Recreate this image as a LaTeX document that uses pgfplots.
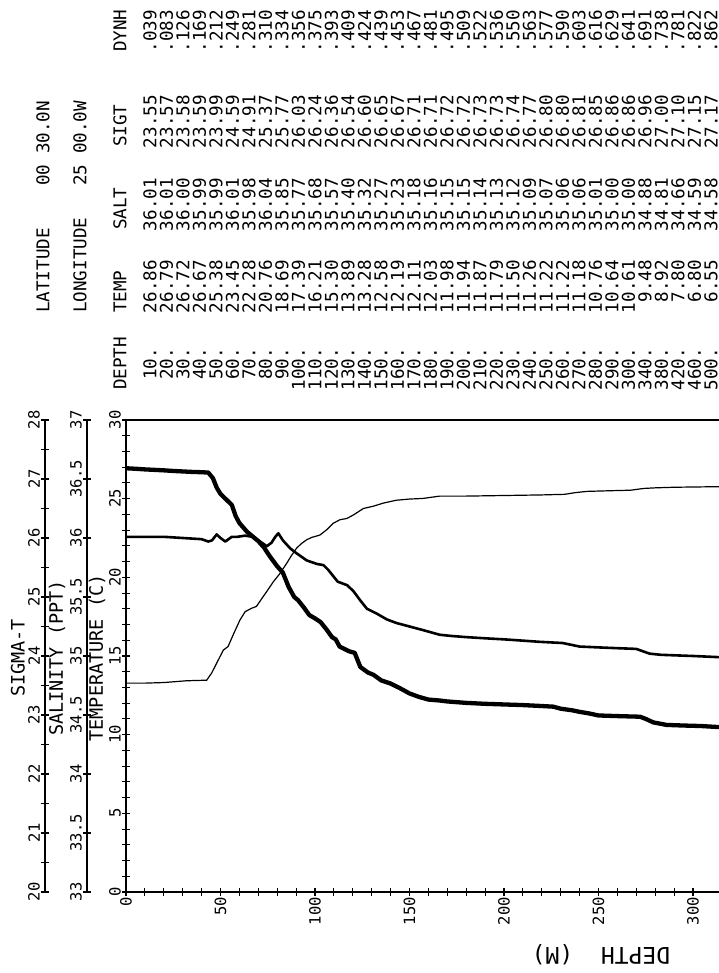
\documentclass[border=0pt]{standalone}
\usepackage{fontspec}
\setmainfont{DejaVu Sans Mono}
\usepackage{pgfplots}
\usepackage{pgfplotstable}
\pgfplotsset{compat=1.18}

\newcommand\tickfont{\fontsize{15.5bp}{16bp}\selectfont}
\newcommand\tabfont{\fontsize{17.6bp}{18bp}\selectfont}
\newcommand\ttlfont{\fontsize{18.5bp}{19bp}\selectfont}

% CTD station 00 30.0N 25 00.0W, traces (depth in m)
\pgfplotstableread{
depth temp
0.5 26.93
5 26.90
10 26.86
15 26.83
20 26.80
25 26.76
30 26.73
35 26.70
40 26.68
43.5 26.66
46 26.30
48 25.70
50 25.30
53 24.95
56 24.60
58 23.90
60 23.45
64 22.90
67 22.60
70 22.30
73 21.90
76 21.35
80 20.70
83 20.30
86 19.40
89 18.75
91 18.55
94 18.10
97 17.60
100 17.39
103 17.15
106 16.70
109 16.20
111 16.05
113 15.60
118 15.30
121 15.20
124 14.30
128 13.95
131 13.80
135 13.45
140 13.25
145 12.95
150 12.62
155 12.40
160 12.23
166 12.17
170 12.11
180 12.02
190 11.96
200 11.92
210 11.88
220 11.82
226 11.78
230 11.65
236 11.55
240 11.45
245 11.35
250 11.22
260 11.18
272 11.14
275 11.00
279 10.78
286 10.62
295 10.58
304 10.55
314 10.48
}\temptab

\pgfplotstableread{
depth salt
0.5 36.01
10 36.01
20 36.01
30 36.00
40 35.99
43.5 35.97
45.5 35.98
48 36.03
50 36.00
52.5 35.97
56 36.01
59 36.01
63 36.02
67 36.01
71 35.97
74.5 35.93
77 35.96
79 36.01
80.6 36.04
83 35.98
87 35.91
90.3 35.87
95.6 35.81
101 35.78
104.5 35.77
107 35.73
112 35.63
117 35.60
120.3 35.55
124 35.47
127.5 35.40
132.6 35.36
138 35.31
143 35.28
150 35.25
157 35.22
166 35.18
172 35.17
180 35.16
190 35.15
201 35.14
219 35.12
231 35.11
240 35.08
254 35.07
270 35.06
277 35.02
283 35.01
300 35.00
314 34.99
}\salttab

\pgfplotstableread{
depth sigt
0.5 23.54
10 23.54
20 23.55
32 23.58
42.7 23.59
45.3 23.71
48 23.88
51.5 24.10
54 24.16
57 24.38
60.3 24.61
63 24.75
66.5 24.81
69 24.84
72 24.98
74.4 25.09
78 25.26
81.5 25.40
85 25.57
87.7 25.71
90.3 25.83
93 25.91
95.6 25.97
98.3 26.01
102.6 26.05
106.2 26.14
109.7 26.25
113.2 26.31
116.8 26.33
120.3 26.39
125.6 26.50
131 26.54
136 26.59
143 26.64
150 26.66
157 26.67
166 26.71
180 26.71
200 26.72
220 26.73
232 26.74
238 26.77
244 26.79
255 26.80
267 26.81
274 26.84
280 26.85
290 26.86
314 26.87
}\sigtab

\pgfplotsset{
  prof/.style={
    scale only axis, height=472bp, anchor=south west,
    enlargelimits=false,
    tick align=center, major tick length=8bp, minor tick length=8bp,
    tick style={black, line width=1.1bp},
    axis line style={line width=1.6bp},
    /pgf/number format/assume math mode=true,
    tick label style={font=\tickfont},
    yticklabel style={rotate=90, anchor=south, inner sep=1bp},
  },
}

\begin{document}
\begin{tikzpicture}[x=1bp, y=1bp]
\useasboundingbox (0,0) rectangle (719,973);

% sigma-t scale, outermost
\begin{axis}[prof, at={(45bp,81bp)}, width=674bp,
    xmin=-42.857, xmax=313.76, ymin=20, ymax=28,
    hide x axis, axis y line*=left,
    ytick={20,...,28}, minor y tick num=1]
\addplot[line width=1.2bp] table[x=depth, y=sigt] \sigtab;
\end{axis}

% salinity scale
\begin{axis}[prof, at={(87bp,81bp)}, width=632bp,
    xmin=-20.635, xmax=313.76, ymin=33, ymax=37,
    hide x axis, axis y line*=left,
    ytick={33,33.5,...,37}]
\addplot[line width=2.6bp, line join=round] table[x=depth, y=salt] \salttab;
\end{axis}

% temperature vs depth
\begin{axis}[prof, at={(126bp,81bp)}, width=593bp,
    xmin=0, xmax=313.76, ymin=0, ymax=30,
    axis lines*=left,
    xtick={0,50,...,300}, minor x tick num=4,
    ytick={0,5,...,30}, minor y tick num=4,
    xticklabel style={rotate=90, anchor=east, inner sep=1bp}]
\addplot[line width=4.3bp, line join=round] table[x=depth, y=temp] \temptab;
\end{axis}
\draw[line width=1.6bp] (126,553) -- (719,553);

% scale titles
\node[rotate=90, font=\ttlfont] at (18,315) {SIGMA-T};
\node[rotate=90, font=\ttlfont] at (57,315) {SALINITY~(PPT)};
\node[rotate=90, font=\ttlfont] at (97,315) {TEMPERATURE~(C)};
\node[rotate=180, font=\fontsize{23bp}{24bp}\selectfont] at (601,18) {DEPTH~~(M)};

% station listing
\begin{scope}[every node/.style={rotate=90, inner sep=0, font=\tabfont}]
\node[anchor=west] at (43,660) {LATITUDE~~~~00~30.0N};
\node[anchor=west] at (80,660) {LONGITUDE~~~25~00.0W};
\node[anchor=west] at (120,583) {DEPTH};
\node[anchor=west] at (120,660) {TEMP};
\node[anchor=west] at (120,743) {SALT};
\node[anchor=west] at (120,826) {SIGT};
\node[anchor=west] at (120,921) {DYNH};
\foreach \i/\d/\t/\s/\g/\h in {
 0/10./26.86/36.01/23.55/.039, 1/20./26.79/36.01/23.57/.083,
 2/30./26.72/36.00/23.58/.126, 3/40./26.67/35.99/23.59/.169,
 4/50./25.38/35.99/23.99/.212, 5/60./23.45/36.01/24.59/.249,
 6/70./22.28/35.98/24.91/.281, 7/80./20.76/36.04/25.37/.310,
 8/90./18.69/35.85/25.77/.334, 9/100./17.39/35.77/26.03/.356,
 10/110./16.21/35.68/26.24/.375, 11/120./15.30/35.57/26.36/.393,
 12/130./13.89/35.40/26.54/.409, 13/140./13.28/35.32/26.60/.424,
 14/150./12.58/35.27/26.65/.439, 15/160./12.19/35.23/26.67/.453,
 16/170./12.11/35.18/26.71/.467, 17/180./12.03/35.16/26.71/.481,
 18/190./11.98/35.15/26.72/.495, 19/200./11.94/35.15/26.72/.509,
 20/210./11.87/35.14/26.73/.522, 21/220./11.79/35.13/26.73/.536,
 22/230./11.50/35.12/26.74/.550, 23/240./11.26/35.09/26.77/.563,
 24/250./11.22/35.07/26.80/.577, 25/260./11.22/35.06/26.80/.590,
 26/270./11.18/35.06/26.81/.603, 27/280./10.76/35.01/26.85/.616,
 28/290./10.64/35.00/26.86/.629, 29/300./10.61/35.00/26.86/.641,
 30/340./9.48/34.88/26.96/.691, 31/380./8.92/34.81/27.00/.738,
 32/420./7.80/34.66/27.10/.781, 33/460./6.80/34.59/27.15/.822,
 34/500./6.55/34.58/27.17/.862} {
  \node[anchor=east] at ({150+16.5*\i},625) {\d};
  \node[anchor=east] at ({150+16.5*\i},713) {\t};
  \node[anchor=east] at ({150+16.5*\i},795) {\s};
  \node[anchor=east] at ({150+16.5*\i},878) {\g};
  \node[anchor=east] at ({150+16.5*\i},963) {\h};
}
\end{scope}
\end{tikzpicture}
\end{document}
